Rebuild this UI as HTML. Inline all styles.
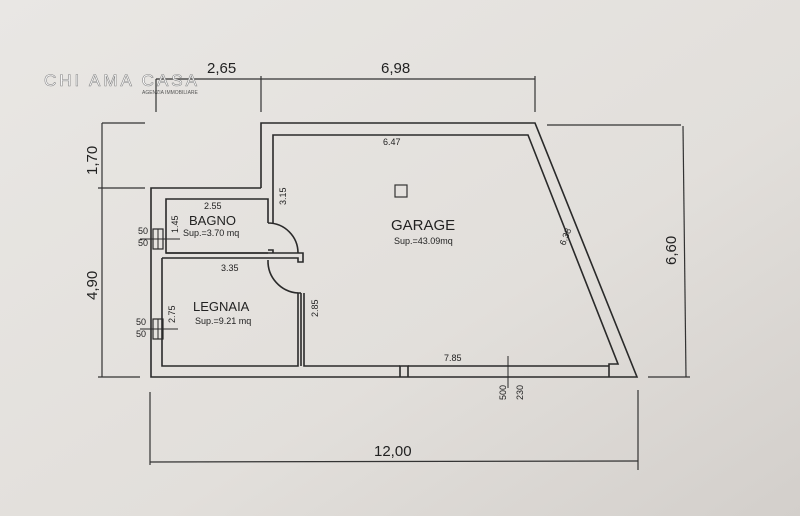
<!DOCTYPE html>
<html><head><meta charset="utf-8"><style>
html,body{margin:0;padding:0;}
body{width:800px;height:516px;overflow:hidden;background:#e4e1dd;}
svg{display:block;}
text{font-family:"Liberation Sans",sans-serif;fill:#222;}
</style></head><body>
<svg width="800" height="516" viewBox="0 0 800 516" xmlns="http://www.w3.org/2000/svg">
<defs><linearGradient id="bg" x1="0" y1="0" x2="1" y2="1">
<stop offset="0" stop-color="#e9e7e4"/><stop offset="0.6" stop-color="#e2dfdb"/><stop offset="1" stop-color="#d3cfcb"/></linearGradient></defs>
<rect width="800" height="516" fill="url(#bg)"/>
<g fill="none" stroke="#2a2a2a" stroke-width="1.6">
<polyline points="261,188 261,123 535,123 637,377 151,377 151,188 261,188"/>
<polyline points="273,223 273,135 528,135 618,364 609,364 609,377"/>
<line x1="408" y1="366" x2="609" y2="366"/>
<polyline points="400,377 400,366 408,366 408,377"/>
<polyline points="304,293 304,366 400,366"/>
<line x1="301" y1="293" x2="301" y2="366"/>
<polyline points="268,223 268,199 166,199 166,253 268,253"/>
<polyline points="268,250 273,250 273,253"/>
<path d="M268,223 A30,30 0 0 1 298,253"/>
<polyline points="166,253 303,253 303,262 298,262 298,258 162,258"/>
<polyline points="162,258 162,366 298,366 298,293 301,293"/>
<path d="M268,260 A32,32 0 0 0 298,293"/>
<rect x="153" y="229" width="10" height="20" stroke-width="1.2"/>
<line x1="158" y1="229" x2="158" y2="249" stroke-width="1"/>
<line x1="140" y1="239" x2="180" y2="239" stroke-width="1"/>
<rect x="153" y="319" width="10" height="20" stroke-width="1.2"/>
<line x1="158" y1="319" x2="158" y2="339" stroke-width="1"/>
<line x1="140" y1="329" x2="178" y2="329" stroke-width="1"/>
<line x1="508" y1="356" x2="508" y2="388" stroke-width="1"/>
</g>
<g fill="none" stroke="#333" stroke-width="1.2">
<line x1="156" y1="79" x2="535" y2="79"/>
<line x1="156" y1="79" x2="156" y2="112"/>
<line x1="261" y1="76" x2="261" y2="112"/>
<line x1="535" y1="76" x2="535" y2="112"/>
<line x1="102" y1="123" x2="102" y2="377"/>
<line x1="102" y1="123" x2="145" y2="123"/>
<line x1="98" y1="188" x2="145" y2="188"/>
<line x1="98" y1="377" x2="140" y2="377"/>
<line x1="683" y1="126" x2="686" y2="377"/>
<line x1="547" y1="125" x2="681" y2="125"/>
<line x1="648" y1="377" x2="690" y2="377"/>
<line x1="150" y1="462" x2="638" y2="461"/>
<line x1="150" y1="392" x2="150" y2="465"/>
<line x1="638" y1="390" x2="638" y2="470"/>
</g>
<g font-size="15">
<text x="207" y="73">2,65</text>
<text x="381" y="73">6,98</text>
<text x="374" y="456">12,00</text>
<text transform="translate(97,175) rotate(-90)">1,70</text>
<text transform="translate(97,300) rotate(-90)">4,90</text>
<text transform="translate(676,265) rotate(-90)">6,60</text>
</g>
<g font-size="9">
<text x="383" y="145">6.47</text>
<text x="204" y="209">2.55</text>
<text x="221" y="271">3.35</text>
<text x="444" y="361">7.85</text>
<text transform="translate(286,205) rotate(-90)">3.15</text>
<text transform="translate(178,233) rotate(-90)">1.45</text>
<text transform="translate(175,323) rotate(-90)">2.75</text>
<text transform="translate(318,317) rotate(-90)">2.85</text>
<text transform="translate(565,246) rotate(-68)">6.38</text>
<text transform="translate(506,400) rotate(-90)">500</text>
<text transform="translate(523,400) rotate(-90)">230</text>
<text x="138" y="234">50</text><text x="138" y="246">50</text>
<text x="136" y="325">50</text><text x="136" y="337">50</text>
<text x="183" y="236">Sup.=3.70 mq</text>
<text x="195" y="324">Sup.=9.21 mq</text>
<text x="394" y="244">Sup.=43.09mq</text>
</g>
<text x="189" y="225" font-size="13">BAGNO</text>
<text x="193" y="311" font-size="13">LEGNAIA</text>
<text x="391" y="230" font-size="15">GARAGE</text>
<rect x="395" y="185" width="12" height="12" fill="none" stroke="#333" stroke-width="1.2"/>
<text x="44" y="86" font-size="17" letter-spacing="3" style="fill:#fff;stroke:#888;stroke-width:0.6">CHI AMA CASA</text>
<text x="142" y="94" font-size="5" style="fill:#555">AGENZIA IMMOBILIARE</text>
</svg>
</body></html>
